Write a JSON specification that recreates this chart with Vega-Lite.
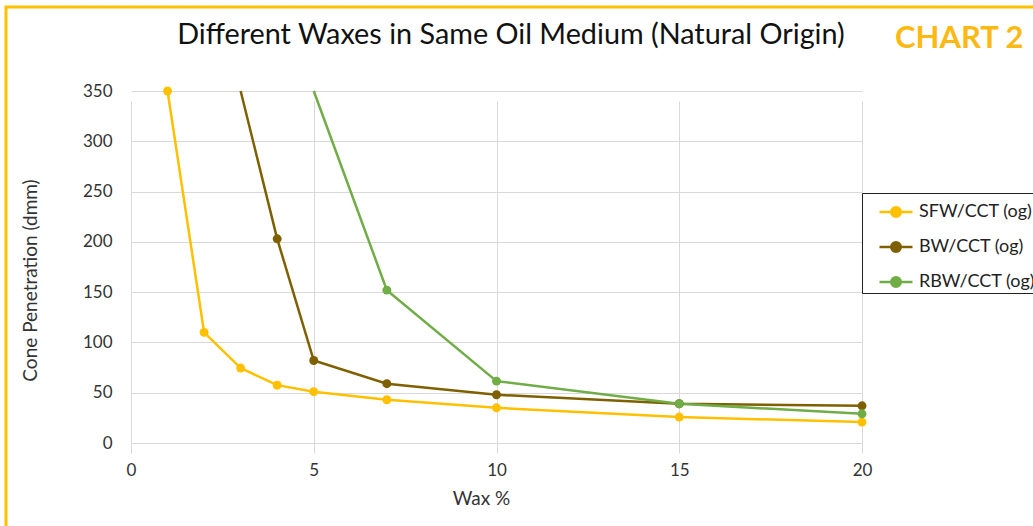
{
  "$schema": "https://vega.github.io/schema/vega-lite/v6.json",
  "autosize": {"type": "none"},
  "width": 1040,
  "height": 530,
  "padding": {"left": 6, "top": 7, "right": 0, "bottom": 0},
  "background": "white",
  "config": {
    "font": "Lato",
    "view": {"stroke": "#FFC000", "strokeWidth": 3},
    "axis": {
      "labelFont": "Lato",
      "labelFontSize": 17,
      "labelColor": "#333333",
      "titleFont": "Lato",
      "titleFontSize": 19,
      "titleFontWeight": "normal",
      "titleColor": "#333333",
      "gridColor": "#D9D9D9",
      "gridWidth": 1,
      "domain": false,
      "ticks": false
    }
  },
  "title": {
    "text": "Different Waxes in Same Oil Medium (Natural Origin)",
    "anchor": "middle",
    "frame": "group",
    "font": "Lato",
    "fontSize": 28.8,
    "fontWeight": "normal",
    "color": "#111111",
    "baseline": "alphabetic",
    "offset": 0,
    "dy": 66,
    "dx": -15
  },
  "data": {
    "values": [
      {"series": "SFW/CCT (og)", "wax": 1, "cp": 350},
      {"series": "SFW/CCT (og)", "wax": 2, "cp": 110},
      {"series": "SFW/CCT (og)", "wax": 3, "cp": 74.5},
      {"series": "SFW/CCT (og)", "wax": 4, "cp": 57.5},
      {"series": "SFW/CCT (og)", "wax": 5, "cp": 51},
      {"series": "SFW/CCT (og)", "wax": 7, "cp": 43},
      {"series": "SFW/CCT (og)", "wax": 10, "cp": 35},
      {"series": "SFW/CCT (og)", "wax": 15, "cp": 25.8},
      {"series": "SFW/CCT (og)", "wax": 20, "cp": 20.8},
      {"series": "BW/CCT (og)", "wax": 3, "cp": 356},
      {"series": "BW/CCT (og)", "wax": 4, "cp": 203},
      {"series": "BW/CCT (og)", "wax": 5, "cp": 82},
      {"series": "BW/CCT (og)", "wax": 7, "cp": 59},
      {"series": "BW/CCT (og)", "wax": 10, "cp": 48},
      {"series": "BW/CCT (og)", "wax": 15, "cp": 39},
      {"series": "BW/CCT (og)", "wax": 20, "cp": 37},
      {"series": "RBW/CCT (og)", "wax": 5, "cp": 358},
      {"series": "RBW/CCT (og)", "wax": 7, "cp": 152},
      {"series": "RBW/CCT (og)", "wax": 10, "cp": 61.5},
      {"series": "RBW/CCT (og)", "wax": 15, "cp": 39},
      {"series": "RBW/CCT (og)", "wax": 20, "cp": 29}
    ]
  },
  "encoding": {
    "x": {
      "field": "wax",
      "type": "quantitative",
      "scale": {"domain": [0, 20], "range": [125, 856], "nice": false, "zero": false},
      "axis": {
        "orient": "bottom",
        "offset": -94,
        "values": [0, 5, 10, 15, 20],
        "labelPadding": 19,
        "labelFlush": false,
        "title": "Wax %",
        "titleX": 475,
        "titleAnchor": null,
        "titlePadding": 11
      }
    },
    "y": {
      "field": "cp",
      "type": "quantitative",
      "scale": {"domain": [0, 350], "range": [436, 84], "nice": false, "clamp": true},
      "axis": {
        "orient": "left",
        "offset": -125,
        "values": [0, 50, 100, 150, 200, 250, 300, 350],
        "labelPadding": 19,
        "title": "Cone Penetration (dmm)",
        "titleY": 273,
        "titlePadding": 42
      }
    },
    "color": {
      "field": "series",
      "type": "nominal",
      "scale": {
        "domain": ["SFW/CCT (og)", "BW/CCT (og)", "RBW/CCT (og)"],
        "range": ["#FFC000", "#7F6000", "#70AD47"]
      },
      "legend": {
        "orient": "none",
        "legendX": 856,
        "legendY": 186,
        "title": null,
        "labelFont": "Lato",
        "labelFontSize": 18,
        "labelColor": "#222222",
        "labelOffset": 5,
        "symbolType": "M-1,0L1,0M-0.29,0A0.29,0.29,0,1,1,0.29,0A0.29,0.29,0,1,1,-0.29,0Z",
        "symbolSize": 1089,
        "symbolStrokeWidth": 2.5,
        "symbolOffset": 15,
        "strokeColor": "#222222",
        "fillColor": "white",
        "padding": 1,
        "rowPadding": 7,
        "encode": {
          "symbols": {
            "update": {
              "fill": {"scale": "color", "field": "value"},
              "stroke": {"scale": "color", "field": "value"},
              "strokeWidth": {"value": 2.5},
              "opacity": {"value": 1}
            }
          }
        }
      }
    }
  },
  "layer": [
    {"mark": {"type": "line", "strokeWidth": 2.5}},
    {
      "transform": [{"filter": "datum.cp <= 350"}],
      "mark": {"type": "circle", "size": 80, "opacity": 1},
      "encoding": {
        "x": {
          "field": "wax",
          "type": "quantitative",
          "axis": {
            "orient": "top",
            "labels": false,
            "ticks": false,
            "domain": false,
            "grid": false,
            "title": "CHART 2",
            "titleX": 1017,
            "titleY": 40,
            "titleAlign": "right",
            "titleBaseline": "alphabetic",
            "titleAngle": 0,
            "titleFont": "Lato",
            "titleFontSize": 31,
            "titleFontWeight": "bold",
            "titleColor": "#FDB913"
          }
        }
      }
    }
  ]
}
